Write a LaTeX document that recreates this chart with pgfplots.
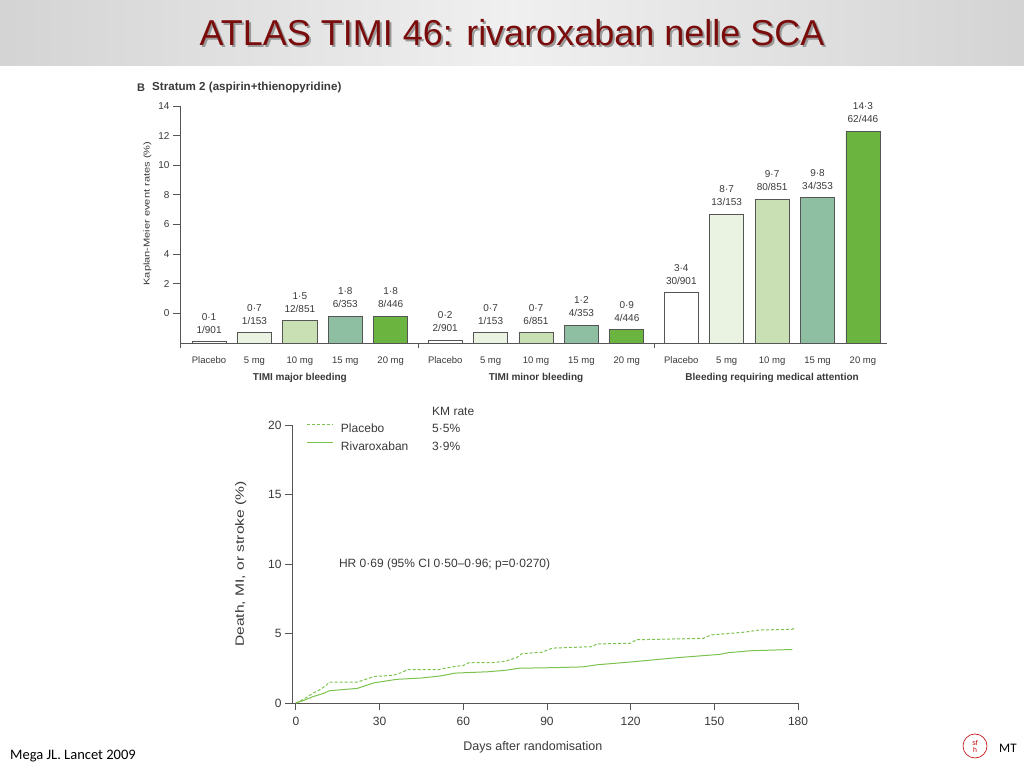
\documentclass[border=0pt]{standalone}
\usepackage{pgfplots}
\pgfplotsset{compat=1.18}
\usepackage{fontspec}
\setmainfont{Liberation Sans}
\newfontfamily\carlito{Carlito}
\newfontfamily\widefont[FakeStretch=1.3]{Liberation Sans}
\definecolor{c5}{HTML}{EAF2E2}
\definecolor{c10}{HTML}{C9E0B5}
\definecolor{c15}{HTML}{8FBFA3}
\definecolor{c20}{HTML}{6AB43F}
\definecolor{edge}{HTML}{555555}
\definecolor{txt}{HTML}{3A3A3A}
\definecolor{kmgreen}{HTML}{7CC24E}
\definecolor{titlered}{HTML}{7B0C0C}
\begin{document}
\begin{tikzpicture}[x=1pt,y=1pt]
\useasboundingbox (0pt,0pt) rectangle (1024pt,768pt);
\fill[white] (0pt,0pt) rectangle (1024pt,768pt);
\shade[left color=black!17, right color=black!17, middle color=black!6] (0pt,702pt) rectangle (1024pt,768pt);
\node[text=black!40, font=\fontsize{36}{40}\selectfont] at (514pt,733pt) {ATLAS TIMI 46: rivaroxaban nelle SCA};
\node[text=titlered, font=\fontsize{36}{40}\selectfont] at (512pt,735pt) {ATLAS TIMI 46: rivaroxaban nelle SCA};
% bar chart caption
\node[anchor=west, text=txt, font=\bfseries\fontsize{11}{13}\selectfont, inner sep=0pt] at (137pt,680pt) {B};
\node[anchor=west, text=txt, font=\bfseries\fontsize{11.6}{13}\selectfont, inner sep=0pt] at (152pt,680pt) {Stratum 2 (aspirin+thienopyridine)};
\begin{axis}[
  at={(180pt,425pt)}, anchor=south west, scale only axis,
  width=707pt, height=237pt,
  xmin=-0.64, xmax=14.93, ymin=0, ymax=16,
  axis x line=bottom, axis y line=left,
  axis line style={-, draw=edge, line width=0.8pt},
  clip=false,
  tick align=outside, major tick length=7pt,
  ytick={2,4,...,16}, yticklabels={0,2,4,6,8,10,12,14},
  ytick style={draw=edge, line width=0.8pt},
  xtick={0,1,2,3,4,5.2,6.2,7.2,8.2,9.2,10.4,11.4,12.4,13.4,14.4},
  xticklabels={Placebo,5 mg,10 mg,15 mg,20 mg,Placebo,5 mg,10 mg,15 mg,20 mg,Placebo,5 mg,10 mg,15 mg,20 mg},
  xtick style={draw=none},
  xticklabel style={font=\fontsize{9.5}{11}\selectfont, text=txt, yshift=-3pt},
  yticklabel style={font=\fontsize{10}{12}\selectfont, text=txt},
  ylabel={Kaplan-Meier event rates (\%)},
  ylabel style={font=\widefont\fontsize{8.5}{10}\selectfont, text=txt, at={(ticklabel cs:0.546)}},
  nodes near coords, point meta=explicit symbolic,
  every node near coord/.append style={align=center, font=\fontsize{10}{13}\selectfont, text=txt, inner sep=2pt, yshift=6pt},
]
\addplot[ybar, bar width=0.75, bar shift=0pt, draw=edge, line width=0.8pt, fill=white]
  coordinates {(0,0.1) [{0·1\\1/901}] (5.2,0.2) [{0·2\\2/901}] (10.4,3.4) [{3·4\\30/901}]};
\addplot[ybar, bar width=0.75, bar shift=0pt, draw=edge, line width=0.8pt, fill=c5]
  coordinates {(1,0.7) [{0·7\\1/153}] (6.2,0.7) [{0·7\\1/153}] (11.4,8.7) [{8·7\\13/153}]};
\addplot[ybar, bar width=0.75, bar shift=0pt, draw=edge, line width=0.8pt, fill=c10]
  coordinates {(2,1.5) [{1·5\\12/851}] (7.2,0.7) [{0·7\\6/851}] (12.4,9.7) [{9·7\\80/851}]};
\addplot[ybar, bar width=0.75, bar shift=0pt, draw=edge, line width=0.8pt, fill=c15]
  coordinates {(3,1.8) [{1·8\\6/353}] (8.2,1.2) [{1·2\\4/353}] (13.4,9.8) [{9·8\\34/353}]};
\addplot[ybar, bar width=0.75, bar shift=0pt, draw=edge, line width=0.8pt, fill=c20]
  coordinates {(4,1.8) [{1·8\\8/446}] (9.2,0.9) [{0·9\\4/446}] (14.4,14.3) [{14·3\\62/446}]};
\draw[edge, line width=0.8pt] (axis cs:-0.64,0) -- ++(0pt,-5pt);
\draw[edge, line width=0.8pt] (axis cs:4.6,0) -- ++(0pt,-5pt);
\draw[edge, line width=0.8pt] (axis cs:9.8,0) -- ++(0pt,-5pt);
\node[font=\bfseries\fontsize{10}{12}\selectfont, text=txt] at (axis cs:2,-2.35) {TIMI major bleeding};
\node[font=\bfseries\fontsize{10}{12}\selectfont, text=txt] at (axis cs:7.2,-2.35) {TIMI minor bleeding};
\node[font=\bfseries\fontsize{10}{12}\selectfont, text=txt] at (axis cs:12.4,-2.35) {Bleeding requiring medical attention};
\end{axis}
% KM chart
\begin{axis}[
  at={(292pt,65pt)}, anchor=south west, scale only axis,
  width=506pt, height=278pt,
  xmin=-1.4, xmax=180, ymin=0, ymax=20,
  axis x line=bottom, axis y line=left,
  axis line style={-, draw=edge, line width=0.9pt},
  clip=false,
  tick align=outside, major tick length=7pt,
  tick style={draw=edge, line width=0.9pt},
  xtick={0,30,...,180}, ytick={0,5,...,20},
  /pgf/number format/assume math mode=true,
  ticklabel style={font=\fontsize{12}{14}\selectfont, text=txt},
  xticklabel style={yshift=-4pt},
  xlabel={Days after randomisation},
  ylabel={Death, MI, or stroke (\%)},
  xlabel style={font=\fontsize{12.5}{14}\selectfont, text=txt, at={(ticklabel cs:0.476,9pt)}},
  ylabel style={font=\widefont\fontsize{12}{14}\selectfont, text=txt, at={(ticklabel cs:0.5,15pt)}},
  legend style={draw=none, fill=none, at={(axis cs:3.9,20.15)}, anchor=north west,
    inner xsep=0pt, inner ysep=0pt, row sep=7pt, column sep=7pt,
    nodes={inner sep=0pt, text=txt, font=\fontsize{12}{14}\selectfont, text height=9pt, text depth=2pt}},
  legend cell align=left,
  legend image code/.code={\draw[#1] (0pt,4pt) -- (26pt,4pt);},
]
\addplot[kmgreen, line width=1pt, dash pattern=on 3pt off 2pt] coordinates {
(0,0) (3,0.3) (6,0.7) (9,1.0) (11,1.3) (12,1.5) (22,1.5) (25,1.7) (28,1.9) (35,2.0) (38,2.2) (40,2.4)
(51,2.4) (56,2.6) (60,2.7) (62,2.9) (70,2.9) (75,3.0) (79,3.25) (81,3.55) (88,3.65) (92,3.95)
(106,4.05) (108,4.25) (120,4.3) (122,4.55) (146,4.65) (149,4.9) (161,5.1) (166,5.25) (178,5.3) (179,5.45)};
\addlegendentry{Placebo}
\addplot[kmgreen, line width=1pt] coordinates {
(0,0) (3,0.2) (6,0.45) (10,0.7) (12,0.88) (16,0.95) (22,1.05) (25,1.25) (28,1.45) (36,1.7) (45,1.8)
(52,1.95) (57,2.15) (69,2.25) (75,2.35) (80,2.5) (94,2.55) (103,2.6) (108,2.75) (120,2.95)
(136,3.25) (152,3.5) (155,3.62) (163,3.76) (170,3.8) (178,3.85)};
\addlegendentry{Rivaroxaban}
\node[anchor=west, inner sep=0pt, text=txt, font=\fontsize{12}{14}\selectfont] at (axis cs:48.8,21.0) {KM rate};
\node[anchor=west, inner sep=0pt, text=txt, font=\fontsize{12}{14}\selectfont] at (axis cs:48.8,19.78) {5·5\%};
\node[anchor=west, inner sep=0pt, text=txt, font=\fontsize{12}{14}\selectfont] at (axis cs:48.8,18.49) {3·9\%};
\node[anchor=west, inner sep=0pt, text=txt, font=\fontsize{12}{14}\selectfont] at (axis cs:15.4,10) {HR 0·69 (95\% CI 0·50–0·96; p=0·0270)};
\end{axis}
% footer
\node[anchor=west, inner sep=0pt, font=\carlito\fontsize{14.5}{16}\selectfont] at (10pt,12pt) {Mega JL. Lancet 2009};
\node[anchor=west, inner sep=0pt, font=\carlito\fontsize{13}{15}\selectfont] at (999pt,20pt) {MT};
\draw[red!75!black, line width=0.6pt] (975pt,22pt) circle (12pt);
\node[text=red!75!black, font=\fontsize{7}{7}\selectfont, align=center, inner sep=0pt] at (975pt,22pt) {sf\\h};
\end{tikzpicture}
\end{document}
